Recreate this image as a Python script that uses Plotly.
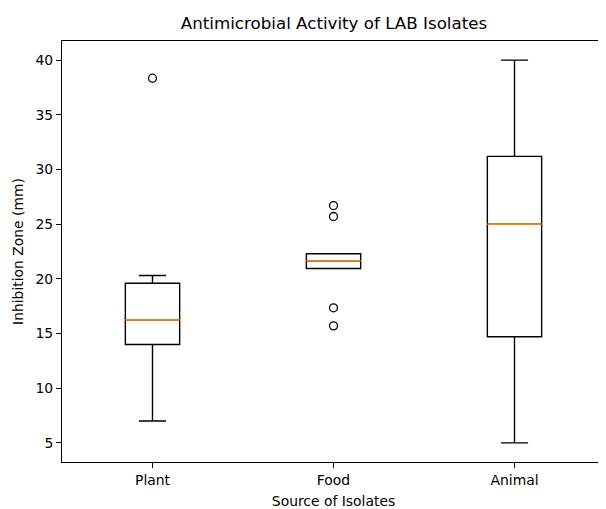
import plotly.graph_objects as go

categories = ["Plant", "Food", "Animal"]
q1 = [14.0, 20.95, 14.7]
median = [16.25, 21.65, 25.0]
q3 = [19.6, 22.3, 31.2]
lower_fence = [7.0, 20.95, 5.0]
upper_fence = [20.3, 22.3, 40.0]
outliers = [[38.35], [26.7, 25.7, 17.35, 15.7], []]

positions = [i + 1 for i in range(len(categories))]
box_width = 0.3
FONT = "DejaVu Sans, Arial, sans-serif"
OFF = 8  # browser body margin

fig = go.Figure()
for i, pos in enumerate(positions):
    fig.add_trace(go.Box(
        x=[pos], q1=[q1[i]], median=[median[i]], q3=[q3[i]],
        lowerfence=[lower_fence[i]], upperfence=[upper_fence[i]],
        width=box_width, whiskerwidth=0.5,
        line=dict(color="black", width=1.4), fillcolor="rgba(255,255,255,0)",
        boxpoints=False, showlegend=False, hoverinfo="skip",
    ))
    fig.add_trace(go.Scatter(
        x=[pos - box_width / 2, pos + box_width / 2], y=[median[i], median[i]],
        mode="lines", line=dict(color="#ff7f0e", width=1.6),
        showlegend=False, hoverinfo="skip",
    ))
    if outliers[i]:
        fig.add_trace(go.Scatter(
            x=[pos] * len(outliers[i]), y=outliers[i], mode="markers",
            marker=dict(symbol="circle-open", size=8, color="black", line=dict(width=1.3)),
            showlegend=False, hoverinfo="skip",
        ))

fig.update_layout(
    width=606 - OFF, height=509 - OFF,
    margin=dict(l=62 - OFF, r=1, t=41 - OFF, b=47),
    paper_bgcolor="white", plot_bgcolor="white",
    font=dict(family=FONT, size=13.9, color="black"),
    title=dict(text="Antimicrobial Activity of LAB Isolates", x=(334 - OFF) / (606 - OFF), xanchor="center",
               y=1 - (23 - OFF) / (509 - OFF), yanchor="middle", font=dict(size=16.7, family=FONT)),
    xaxis=dict(range=[0.5, 3.5], tickmode="array", tickvals=positions, ticktext=categories,
               showgrid=False, zeroline=False, showline=True, linecolor="black", linewidth=1,
               mirror=True, ticks="outside", ticklen=5, tickcolor="black",
               tickfont=dict(size=13.9, family=FONT),
               title=dict(text="Source of Isolates", standoff=10, font=dict(size=13.9, family=FONT))),
    yaxis=dict(range=[3.25, 41.75], tickmode="array", tickvals=[5, 10, 15, 20, 25, 30, 35, 40],
               showgrid=False, zeroline=False, showline=True, linecolor="black", linewidth=1,
               mirror=True, ticks="outside", ticklen=5, tickcolor="black",
               tickfont=dict(size=13.9, family=FONT),
               title=dict(text="Inhibition Zone (mm)", standoff=8, font=dict(size=13.9, family=FONT))),
)

fig.write_html("out.html")
